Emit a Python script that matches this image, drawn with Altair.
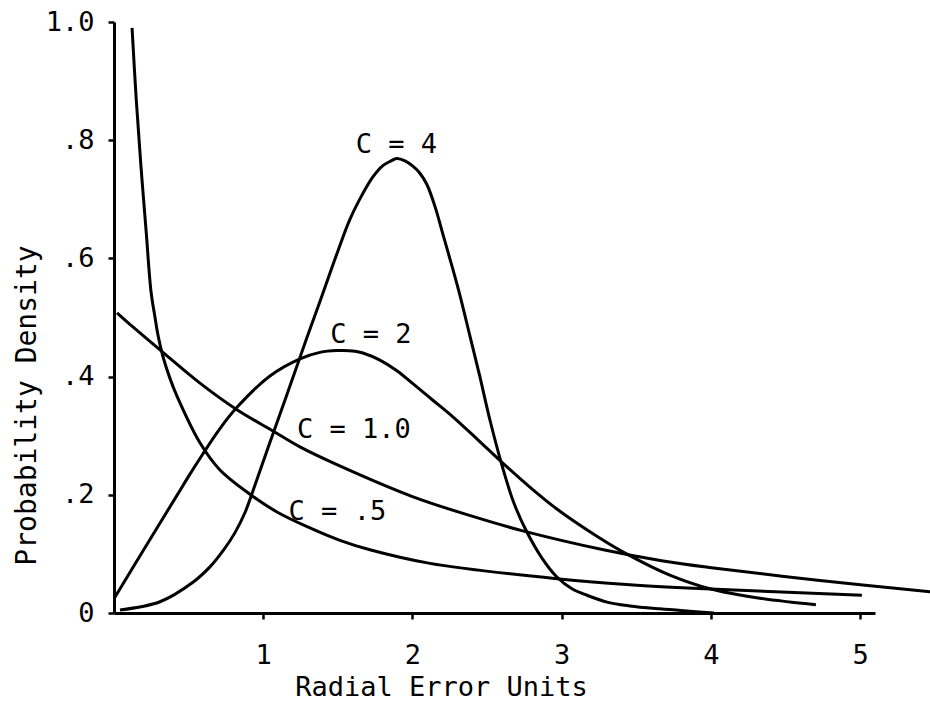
import altair as alt
import pandas as pd

# ---- data (x: radial error units, y: probability density)
c4_x = [0.040, 0.308, 0.529, 0.643, 0.730, 0.811, 0.878, 0.958, 1.065, 1.179, 1.293, 1.394,
        1.494, 1.581, 1.668, 1.735, 1.802, 1.849, 1.896, 1.950, 2.003, 2.050, 2.097, 2.151,
        2.204, 2.265, 2.318, 2.385, 2.452, 2.519, 2.600, 2.680, 2.767, 2.868, 2.968, 3.069,
        3.169, 3.310, 3.457, 3.658, 3.859, 4.020]
c4_y = [0.005, 0.019, 0.052, 0.078, 0.105, 0.136, 0.170, 0.226, 0.303, 0.384, 0.466, 0.537,
        0.608, 0.666, 0.710, 0.738, 0.757, 0.764, 0.769, 0.765, 0.756, 0.744, 0.725, 0.688,
        0.641, 0.587, 0.538, 0.469, 0.400, 0.327, 0.250, 0.186, 0.137, 0.093, 0.061, 0.041,
        0.030, 0.018, 0.012, 0.007, 0.003, 0.0]

c2_x = [0.007, 0.194, 0.422, 0.509, 0.590, 0.710, 0.824, 1.045, 1.246, 1.380, 1.494, 1.615,
        1.668, 1.782, 1.896, 2.003, 2.137, 2.271, 2.439, 2.600, 2.787, 2.968, 3.236, 3.457,
        3.725, 3.993, 4.328, 4.704]
c2_y = [0.027, 0.105, 0.199, 0.235, 0.267, 0.312, 0.348, 0.401, 0.430, 0.441, 0.444, 0.443,
        0.440, 0.428, 0.410, 0.388, 0.360, 0.332, 0.293, 0.255, 0.213, 0.176, 0.130, 0.097,
        0.064, 0.041, 0.025, 0.014]

c1_x = [0.020, 0.127, 0.328, 0.576, 0.824, 1.065, 1.246, 1.494, 2.00, 2.41, 2.74, 3.28,
        3.68, 3.99, 4.70, 5.47]
c1_y = [0.508, 0.484, 0.441, 0.389, 0.344, 0.308, 0.281, 0.251, 0.197, 0.163, 0.139, 0.107,
        0.088, 0.077, 0.056, 0.036]

c05_x = [0.121, 0.149, 0.181, 0.216, 0.248, 0.275, 0.295, 0.328, 0.375, 0.422, 0.576, 0.710,
         0.911, 1.092, 1.313, 1.514, 1.715, 2.117, 2.968, 3.457, 3.960, 5.012]
c05_y = [0.990, 0.869, 0.755, 0.644, 0.544, 0.500, 0.470, 0.434, 0.397, 0.367, 0.288, 0.242,
         0.201, 0.171, 0.144, 0.123, 0.107, 0.084, 0.058, 0.048, 0.041, 0.030]

curve_labels = ["C = 4", "C = 2", "C = 1.0", "C = .5"]
label_x = [1.893, 1.722, 1.608, 1.497]
label_y = [0.778, 0.457, 0.296, 0.157]

x_ticks = [1, 2, 3, 4, 5]
y_ticks = [0, 0.2, 0.4, 0.6, 0.8, 1.0]
y_tick_labels = ["0", ".2", ".4", ".6", ".8", "1.0"]

x_title = "Radial Error Units"
y_title = "Probability Density"

# ---- build tables
rows = []
for name, xs, ys in [("C = 4", c4_x, c4_y), ("C = 2", c2_x, c2_y),
                     ("C = 1.0", c1_x, c1_y), ("C = .5", c05_x, c05_y)]:
    for i, (a, b) in enumerate(zip(xs, ys)):
        rows.append({"series": name, "x": a, "y": b, "i": i})
curves = pd.DataFrame(rows)
labels = pd.DataFrame({"text": curve_labels, "x": label_x, "y": label_y})

label_expr = " : ".join(
    [f"datum.value == {v} ? '{t}'" for v, t in zip(y_ticks, y_tick_labels)]) + " : ''"

FONT = "DejaVu Sans Mono"

x_scale = alt.Scale(domain=[0, 5.1], nice=False, zero=False)
y_scale = alt.Scale(domain=[0, 1.0], nice=False)

x_axis = alt.Axis(values=x_ticks, format="d", title=x_title, labelPadding=23,
                  titleX=327, titleY=82, titleAlign="center", titleBaseline="alphabetic",
                  titleFontSize=27)
y_axis = alt.Axis(values=y_ticks, labelExpr=label_expr, title=y_title, labelPadding=14,
                  titleAngle=270, titleX=-79, titleY=383, titleAlign="center",
                  titleBaseline="alphabetic", titleFontSize=28)

lines = alt.Chart(curves).mark_line(
    color="black", strokeWidth=3, interpolate="catmull-rom"
).encode(
    x=alt.X("x:Q", scale=x_scale, axis=x_axis),
    y=alt.Y("y:Q", scale=y_scale, axis=y_axis),
    detail="series:N",
    order="i:Q",
)

texts = alt.Chart(labels).mark_text(
    font=FONT, fontSize=27, color="black", align="center", baseline="alphabetic"
).encode(
    x=alt.X("x:Q", scale=x_scale),
    y=alt.Y("y:Q", scale=y_scale),
    text="text:N",
)

chart = alt.layer(lines, texts).properties(
    width=761, height=591,
    autosize=alt.AutoSizeParams(type="none"),
    padding={"left": 114, "top": 22, "right": 55, "bottom": 89},
    background="white",
).configure_view(
    strokeWidth=0
).configure_axis(
    grid=False,
    domainColor="black", domainWidth=3,
    tickColor="black", tickWidth=2.5, tickSize=6,
    labelFont=FONT, labelFontSize=27, labelColor="black",
    titleFont=FONT, titleFontWeight="normal", titleColor="black",
)

chart.save("out.html", embed_options={"renderer": "svg", "actions": False})
